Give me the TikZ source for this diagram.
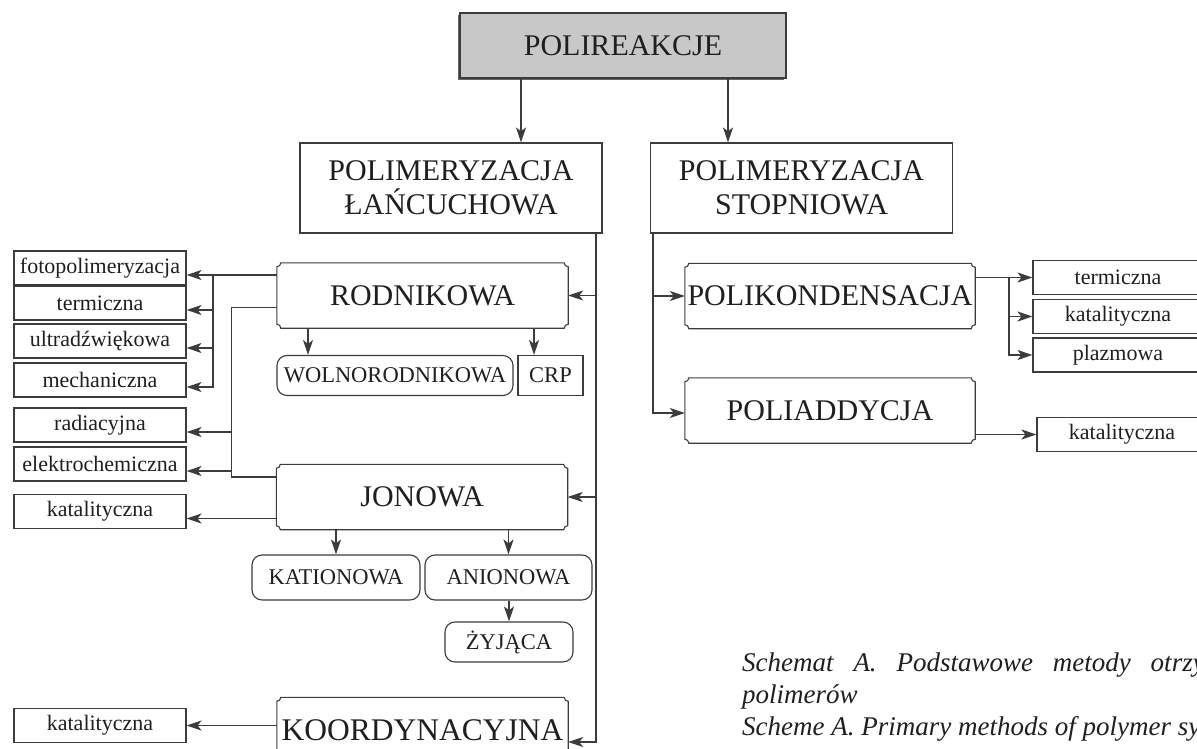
\documentclass[tikz,border=0pt]{standalone}
\usepackage{fontspec}
\setmainfont{Liberation Serif}
\usetikzlibrary{arrows.meta,shadows}
\definecolor{SchemeLine}{HTML}{3C3C3C}
\definecolor{SchemeFill}{HTML}{C8C8C8}
\tikzset{>=Stealth,every node/.style={text=black!88},
 wire/.style={draw=SchemeLine,line width=1.1pt},
 arr/.style={wire,-{Stealth[length=15pt,width=10pt,inset=4pt]}},
 topbox/.style={draw=SchemeLine,fill=SchemeFill,line width=1.1pt,minimum width=326,minimum height=65,
  drop shadow={shadow xshift=-2.5pt,shadow yshift=-2.5pt,fill=black!60,opacity=1},
  font=\fontsize{30}{34}\selectfont},
 kindbox/.style={draw=SchemeLine,line width=1.1pt,minimum width=302,minimum height=90,
  align=center,font=\fontsize{30}{34}\selectfont},
 groupbox/.style={minimum width=291,minimum height=65,inner sep=0pt,font=\fontsize{30}{34}\selectfont},
 subbox/.style={draw=SchemeLine,line width=1.1pt,rounded corners=10pt,minimum height=40,
  inner sep=0pt,font=\fontsize{22.5}{25}\selectfont},
 methodbox/.style={draw=SchemeLine,line width=1.1pt,minimum width=172,minimum height=34,
  inner sep=0pt,font=\fontsize{22}{24}\selectfont}}
% frame with small inward corners for the group boxes
\newcommand{\notchframe}[1]{%
 \draw[wire] ([yshift=-4pt]#1.north west) arc[start angle=270,end angle=360,radius=4pt]
  -- ([xshift=-4pt]#1.north east) arc[start angle=180,end angle=270,radius=4pt]
  -- ([yshift=4pt]#1.south east) arc[start angle=90,end angle=180,radius=4pt]
  -- ([xshift=4pt]#1.south west) arc[start angle=0,end angle=90,radius=4pt] -- cycle;}

\begin{document}
\begin{tikzpicture}[x=1pt,y=-1pt]
\useasboundingbox (0,0) rectangle (1197,749);
\clip (0,0) rectangle (1197,749);
% main kinds of polyreactions
\node[topbox] (top) at (623,45.5) {POLIREAKCJE};
\node[kindbox] (chainpol) at (451,188) {POLIMERYZACJA\\ŁAŃCUCHOWA};
\node[kindbox] (steppol) at (801.5,188) {POLIMERYZACJA\\STOPNIOWA};
\draw[arr] (521,0 |- top.south) -- (521,0 |- chainpol.north);
\draw[arr] (728,0 |- top.south) -- (728,0 |- steppol.north);
\node[groupbox] (rad) at (422.5,295.5) {RODNIKOWA};
\node[groupbox] (ion) at (422,497) {JONOWA};
\node[groupbox,font=\fontsize{31.5}{34}\selectfont] (coord) at (422.5,730) {KOORDYNACYJNA};
\node[groupbox,minimum width=290] (pcond) at (830,296) {POLIKONDENSACJA};
\node[groupbox,minimum width=290] (padd) at (830,410.5) {POLIADDYCJA};
\foreach \n in {rad,ion,coord,pcond,padd}{\notchframe{\n}}
\draw[arr] (596,0 |- chainpol.south) |- ([yshift=-12pt]coord.east);
\draw[arr] (596,0 |- rad.east) -- (rad.east);
\draw[arr] (596,0 |- ion.east) -- (ion.east);
\draw[arr] (653,0 |- steppol.south) |- ([yshift=-2.5pt]padd.west);
\draw[arr] (653,0 |- pcond.west) -- (pcond.west);
% subtypes
\node[subbox,minimum width=236] (free) at (395,375.5) {WOLNORODNIKOWA};
\node[subbox,sharp corners,minimum width=65] (crp) at (550.5,375.5) {CRP};
\node[subbox,minimum width=168,minimum height=45] (cat) at (336,577.5) {KATIONOWA};
\node[subbox,minimum width=167,minimum height=45] (an) at (508.5,577.5) {ANIONOWA};
\node[subbox,minimum width=128] (liv) at (509,642) {ŻYJĄCA};
\draw[arr] (308,0 |- rad.south) -- (308,0 |- free.north);
\draw[arr] (534,0 |- rad.south) -- (534,0 |- crp.north);
\draw[arr] (cat.north |- ion.south) -- (cat.north);
\draw[arr] (an.north |- ion.south) -- (an.north);
\draw[arr] (liv.north |- an.south) -- (liv.north);
% initiation methods, left
\foreach \n/\y/\t in {photo/268/fotopolimeryzacja,term/303/termiczna,ultra/341/ultradźwiękowa,
 mech/380/mechaniczna,radia/425/radiacyjna,elec/464/elektrochemiczna,kat1/511.5/katalityczna,
 kat2/725.5/katalityczna}{
 \node[methodbox] (\n) at (100,\y) {\t};
 \coordinate (\n-in) at ([yshift=-7pt]\n.east);
}
\draw[arr] (rad.west |- photo-in) -- (photo-in);
\foreach \n in {term,ultra,mech}{\draw[arr] (213,0 |- photo-in) |- (\n-in);}
\draw[wire] ([yshift=-12pt]rad.west) -| ([xshift=-45pt,yshift=20pt]ion.west) -- ([yshift=20pt]ion.west);
\draw[arr] (232,0 |- radia-in) -- (radia-in);
\draw[arr] (232,0 |- elec-in) -- (elec-in);
\draw[arr] (ion.west |- kat1-in) -- (kat1-in);
\draw[arr] (coord.west |- kat2.east) -- (kat2.east);
% methods, right
\foreach \n/\x/\y/\t in {r1/1118/277.5/termiczna,r2/1118/316.5/katalityczna,r3/1118/355/plazmowa,
 r4/1122/434.5/katalityczna}{
 \node[methodbox,minimum width=170] (\n) at (\x,\y) {\t};
}
\draw[arr] (pcond.east |- r1.west) -- (r1.west);
\draw[arr] (1009,0 |- r1.west) |- (r2.west);
\draw[arr] (1009,0 |- r2.west) |- (r3.west);
\draw[arr] (padd.east |- r4.west) -- (r4.west);
% caption
\node[anchor=north west,inner sep=0pt,align=left,font=\fontsize{27}{32}\selectfont\itshape] (caption)
 at (742,653) {\makebox[560pt][s]{Schemat A. Podstawowe metody otrzymywania}\\polimerów\\
 Scheme A. Primary methods of polymer synthesis};
\end{tikzpicture}
\end{document}
